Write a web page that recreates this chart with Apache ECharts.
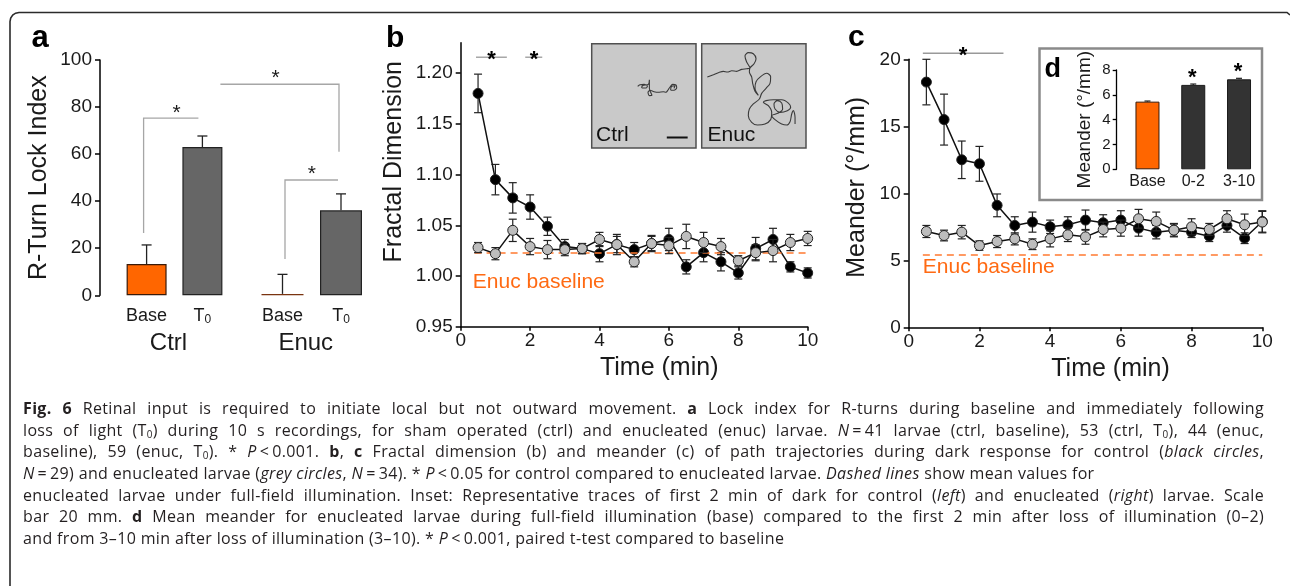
<!DOCTYPE html>
<html>
<head>
<meta charset="utf-8">
<title>Fig. 6</title>
<script src="https://cdn.jsdelivr.net/npm/echarts@6/dist/echarts.min.js"></script>
<style>
  html, body { margin: 0; padding: 0; background: #fff; }
  #chart { position: absolute; left: 0; top: 0; width: 1290px; height: 586px; }
  #caption {
    position: absolute; left: 23px; top: 398px;
    font-family: "Open Sans", "Noto Sans", sans-serif; font-size: 16px; letter-spacing: 0.35px;
    line-height: 21.67px; color: #231f20; white-space: nowrap;
  }
  #caption div { width: max-content; }
  #caption div.j { width: 1241px; text-align: justify; text-align-last: justify; white-space: normal; }
  #caption sub { font-size: 0.62em; vertical-align: -0.25em; line-height: 0; }
</style>
</head>
<body>
<div id="chart"></div>
<div id="caption">
  <div class="j"><b>Fig. 6</b> Retinal input is required to initiate local but not outward movement. <b>a</b> Lock index for R-turns during baseline and immediately following</div>
  <div class="j">loss of light (T<sub>0</sub>) during 10 s recordings, for sham operated (ctrl) and enucleated (enuc) larvae. <i>N</i>&#8201;=&#8201;41 larvae (ctrl, baseline), 53 (ctrl, T<sub>0</sub>), 44 (enuc,</div>
  <div class="j">baseline), 59 (enuc, T<sub>0</sub>). * <i>P</i>&#8201;&lt;&#8201;0.001. <b>b</b>, <b>c</b> Fractal dimension (b) and meander (c) of path trajectories during dark response for control (<i>black circles</i>,</div>
  <div><i>N</i>&#8201;=&#8201;29) and enucleated larvae (<i>grey circles</i>, <i>N</i>&#8201;=&#8201;34). * <i>P</i>&#8201;&lt;&#8201;0.05 for control compared to enucleated larvae. <i>Dashed lines</i> show mean values for</div>
  <div class="j">enucleated larvae under full-field illumination. Inset: Representative traces of first 2 min of dark for control (<i>left</i>) and enucleated (<i>right</i>) larvae. Scale</div>
  <div class="j">bar 20 mm. <b>d</b> Mean meander for enucleated larvae during full-field illumination (base) compared to the first 2 min after loss of illumination (0&#8211;2)</div>
  <div>and from 3&#8211;10 min after loss of illumination (3&#8211;10). * <i>P</i>&#8201;&lt;&#8201;0.001, paired t-test compared to baseline</div>
</div>
<script>
// ---- Panel a: R-turn lock index (mean + upper SEM) ----
const lockCategories = ['Base', 'T0'];
const lockCtrl = [13.3, 63.0];
const lockCtrlErr = [8.1, 4.7];
const lockEnuc = [0.6, 36.1];
const lockEnucErr = [8.3, 7.0];
const lockTicks = [0, 20, 40, 60, 80, 100];

// ---- Panels b, c: time course after loss of light (min) ----
const timeMin = [0.5, 1, 1.5, 2, 2.5, 3, 3.5, 4, 4.5, 5, 5.5, 6, 6.5, 7, 7.5, 8, 8.5, 9, 9.5, 10];
const timeTicks = [0, 2, 4, 6, 8, 10];

const fractalCtrl = [1.180, 1.095, 1.077, 1.068, 1.049, 1.029, 1.027, 1.022, 1.031, 1.026, 1.032, 1.036, 1.009, 1.023, 1.014, 1.003, 1.027, 1.036, 1.009, 1.003];
const fractalCtrlErr = [0.019, 0.015, 0.015, 0.012, 0.009, 0.007, 0.005, 0.008, 0.008, 0.007, 0.007, 0.011, 0.007, 0.009, 0.009, 0.006, 0.011, 0.011, 0.005, 0.005];
const fractalEnuc = [1.028, 1.022, 1.045, 1.029, 1.026, 1.026, 1.027, 1.036, 1.031, 1.014, 1.032, 1.030, 1.039, 1.033, 1.029, 1.015, 1.023, 1.025, 1.033, 1.037];
const fractalEnucErr = [0.005, 0.006, 0.011, 0.008, 0.009, 0.006, 0.005, 0.007, 0.010, 0.005, 0.008, 0.008, 0.012, 0.010, 0.008, 0.005, 0.008, 0.011, 0.008, 0.007];
const fractalBaseline = 1.023;
const fractalTicks = [0.95, 1.00, 1.05, 1.10, 1.15, 1.20];

const meanderCtrl = [18.3, 15.5, 12.5, 12.2, 9.1, 7.6, 7.85, 7.5, 7.65, 8.0, 7.8, 8.0, 7.4, 7.1, 7.25, 7.1, 6.8, 7.6, 6.65, 7.9];
const meanderCtrlErr = [1.7, 1.9, 1.4, 1.3, 0.85, 0.65, 0.75, 0.5, 0.6, 0.75, 0.6, 0.7, 0.6, 0.5, 0.45, 0.4, 0.4, 0.5, 0.4, 0.8];
const meanderEnuc = [7.15, 6.85, 7.1, 6.1, 6.4, 6.6, 6.2, 6.6, 6.9, 6.75, 7.3, 7.4, 8.1, 7.9, 7.25, 7.5, 7.3, 8.1, 7.65, 7.85];
const meanderEnucErr = [0.45, 0.4, 0.5, 0.35, 0.45, 0.45, 0.4, 0.6, 0.5, 0.55, 0.55, 0.6, 0.7, 0.7, 0.5, 0.6, 0.45, 0.6, 0.8, 0.8];
const meanderBaseline = 5.45;

// ---- Panel d: mean meander of enucleated larvae by period ----
const periodLabels = ['Base', '0-2', '3-10'];
const periodMeander = [5.45, 6.8, 7.25];
const periodMeanderErr = [0.05, 0.07, 0.08];

// ---- Inset traces: first 2 min of dark, arena coordinates (mm) ----
const ctrlTrace = [[44.1,59.1],[46.3,60.7],[50.2,61.0],[53.4,59.4],[52.1,57.5],[47.9,58.1],[49.5,60.1],[54.3,61.0],[55.3,65.5],[55.3,57.2],[56.5,53.4],[57.8,50.5],[55.3,50.2],[54.0,53.4],[55.9,55.3],[59.7,54.0],[63.9,53.4],[68.7,54.0],[71.2,53.4],[73.2,55.6],[75.1,58.5],[77.6,61.0],[80.8,60.4],[81.5,57.8],[78.9,55.3],[75.7,55.9],[76.7,59.1],[79.9,59.7],[78.9,57.2]];
const enucTrace = [[5.4,68.1],[11.2,70.3],[16,72.2],[20.8,73.5],[24.6,72.8],[28.8,74.1],[33.5,73.5],[38.3,75.4],[43.1,76],[46.3,76.7],[43.1,82.4],[41.5,88.2],[44.7,91.4],[49.5,90.4],[52.1,85.6],[50.2,80.8],[46.3,76.7],[45.7,72.8],[47.9,68.1],[48.9,61.7],[51.1,54.3],[54.3,50.5],[51.1,57.2],[52.1,63.6],[56.5,68.4],[62.3,71.6],[66.1,68.4],[65.5,62.0],[61.7,57.2],[57.5,52.4],[55.3,47.0],[49.5,42.2],[45.7,37.4],[44.7,31.0],[47.9,24.6],[53.4,22.0],[60.7,23.0],[66.1,27.2],[67.1,34.2],[63.9,40.6],[59.1,43.8],[61.7,45.4],[68.7,46.3],[76.7,46.3],[83.1,43.1],[85.3,39.0],[82.1,35.8],[75.1,34.2],[70.3,37.4],[69.3,42.2],[72.5,45.4],[76.7,43.1],[77.6,37.4],[73.5,33.5],[67.1,31.0],[70.3,27.2],[76.7,23.0],[81.5,22.0],[84.7,25.2],[86.3,32.6],[87.9,35.8],[89.5,29.4],[89.5,23.0]];
const scaleBarMm = [[72, 10], [92, 10]];

// ---- styling ----
const FONT = '"Liberation Sans", Arial, Helvetica, sans-serif';
const INK = '#1a1a1a';
const ORANGE = '#ff6600';
const ORANGE_TEXT = '#ff6a13';

const axisLineStyle = { show: true, lineStyle: { color: '#000', width: 1.5 } };
const axisTickStyle = { show: true, inside: false, length: 5, lineStyle: { color: '#000', width: 1.5 } };

function valueYAxis(grid, min, max, interval, extra) {
  return Object.assign({
    type: 'value', gridIndex: grid, min, max, interval,
    axisLine: axisLineStyle, axisTick: axisTickStyle, splitLine: { show: false },
    axisLabel: { fontSize: 19, color: INK, margin: 8, fontFamily: FONT },
    nameLocation: 'middle', nameRotate: 90,
    nameTextStyle: { fontSize: 25, color: INK, fontFamily: FONT }
  }, extra || {});
}
function timeXAxis(grid) {
  return {
    type: 'value', gridIndex: grid, min: 0, max: 10, interval: 2,
    axisLine: axisLineStyle, axisTick: Object.assign({}, axisTickStyle, { length: 4 }),
    splitLine: { show: false },
    axisLabel: { fontSize: 19, color: INK, margin: 5, fontFamily: FONT },
    name: 'Time (min)', nameLocation: 'middle', nameGap: 29,
    nameTextStyle: { fontSize: 25, color: INK, fontFamily: FONT, padding: [0, 0, 0, 50] }
  };
}
function hiddenAxis(grid) {
  return { type: 'value', gridIndex: grid, min: 0, max: 100, show: false };
}
const subRich = {
  t: { fontSize: 18, color: INK, fontFamily: FONT, lineHeight: 20, verticalAlign: 'bottom' },
  s: { fontSize: 12, color: INK, fontFamily: FONT, lineHeight: 8, verticalAlign: 'bottom' }
};
function groupXAxis(grid, name) {
  return {
    type: 'category', gridIndex: grid, data: lockCategories,
    axisLine: { show: false }, axisTick: { show: false },
    axisLabel: {
      margin: 10, interval: 0,
      formatter: v => v === 'T0' ? '{t|T}{s|0}' : '{t|' + v + '}',
      rich: subRich
    },
    name, nameLocation: 'middle', nameGap: 36,
    nameTextStyle: { fontSize: 24, color: INK, fontFamily: FONT, padding: [0, 12, 0, 0] }
  };
}

// vertical error bars drawn through the axis scales
function errorBars(xi, yi, xs, ys, errs, opt) {
  return {
    type: 'custom', xAxisIndex: xi, yAxisIndex: yi, silent: true, z: opt.z,
    data: ys.map((y, i) => [xs ? xs[i] : i, opt.upOnly ? y : y - errs[i], y + errs[i]]),
    encode: { x: 0, y: [1, 2] },
    renderItem(params, api) {
      const x = api.value(0);
      const lo = api.coord([x, api.value(1)]);
      const hi = api.coord([x, api.value(2)]);
      const w = opt.cap;
      const style = { stroke: opt.color, lineWidth: opt.width, fill: null };
      const kids = [
        { type: 'line', shape: { x1: lo[0], y1: lo[1], x2: hi[0], y2: hi[1] }, style },
        { type: 'line', shape: { x1: hi[0] - w, y1: hi[1], x2: hi[0] + w, y2: hi[1] }, style }
      ];
      if (!opt.upOnly) kids.push({ type: 'line', shape: { x1: lo[0] - w, y1: lo[1], x2: lo[0] + w, y2: lo[1] }, style });
      return { type: 'group', children: kids };
    }
  };
}
function pointSeries(xi, yi, ys, fill, z, extra) {
  return Object.assign({
    type: 'line', xAxisIndex: xi, yAxisIndex: yi, z,
    data: timeMin.map((t, i) => [t, ys[i]]),
    symbol: 'circle', symbolSize: 10, showSymbol: true, silent: true,
    lineStyle: { color: '#111', width: 1.5 },
    itemStyle: { color: fill, borderColor: '#222', borderWidth: 1 }
  }, extra || {});
}
function baselineMark(value) {
  return {
    silent: true, symbol: ['none', 'none'], label: { show: false },
    lineStyle: { color: '#ff7a30', width: 1.6, type: [7, 5] },
    data: [[{ coord: [0.4, value] }, { coord: [10, value] }]]
  };
}
// bar items styled per position (fill, outline)
function styledBars(values, fills, borders) {
  return values.map((v, i) => ({ value: v, itemStyle: { color: fills[i], borderColor: borders[i] } }));
}

const option = {
  animation: false,
  backgroundColor: '#ffffff',
  textStyle: { fontFamily: FONT, color: INK },
  grid: [
    { left: 118.7, top: 60, width: 111.6, height: 235.3, outerBoundsMode: 'none' },
    { left: 253.25, top: 60, width: 117, height: 235.3, outerBoundsMode: 'none' },
    { left: 460.7, top: 42.7, width: 347, height: 284, outerBoundsMode: 'none' },
    { left: 908.7, top: 59.3, width: 353.6, height: 268, outerBoundsMode: 'none' },
    { left: 1124.6, top: 70, width: 137.3, height: 99.3, outerBoundsMode: 'none' },
    { left: 591.7, top: 43.7, width: 104.3, height: 104.3, show: true, backgroundColor: '#c9c9c9', borderColor: '#505050', borderWidth: 1.5, outerBoundsMode: 'none' },
    { left: 701.7, top: 43.7, width: 104.3, height: 104.3, show: true, backgroundColor: '#c9c9c9', borderColor: '#505050', borderWidth: 1.5, outerBoundsMode: 'none' }
  ],
  xAxis: [
    groupXAxis(0, 'Ctrl'),
    groupXAxis(1, 'Enuc'),
    timeXAxis(2),
    timeXAxis(3),
    {
      type: 'category', gridIndex: 4, data: periodLabels,
      axisLine: { show: false }, axisTick: { show: false },
      axisLabel: { fontSize: 16, color: INK, margin: 4, interval: 0, fontFamily: FONT }
    },
    hiddenAxis(5),
    hiddenAxis(6)
  ],
  yAxis: [
    valueYAxis(0, 0, 100, 20, { offset: 18.7, name: 'R-Turn Lock Index', nameGap: 48 }),
    { type: 'value', gridIndex: 1, min: 0, max: 100, show: false },
    valueYAxis(2, 0.95, 1.23, 0.05, {
      name: 'Fractal Dimension', nameGap: 54,
      axisLabel: { fontSize: 19, color: INK, margin: 8, fontFamily: FONT, customValues: fractalTicks, formatter: v => v.toFixed(2) },
      axisTick: Object.assign({}, axisTickStyle, { customValues: fractalTicks }),
      nameTextStyle: { fontSize: 25, color: INK, fontFamily: FONT, padding: [0, 0, 0, 46] }
    }),
    valueYAxis(3, 0, 20, 5, {
      name: 'Meander (°/mm)', nameGap: 39,
      nameTextStyle: { fontSize: 25, color: INK, fontFamily: FONT, padding: [0, 0, 0, 12] }
    }),
    valueYAxis(4, 0, 8, 2, {
      offset: 7.9, name: 'Meander (°/mm)', nameGap: 22,
      axisLine: { show: true, lineStyle: { color: '#000', width: 1.3 } },
      axisTick: { show: true, length: 4, lineStyle: { color: '#000', width: 1.3 } },
      axisLabel: { fontSize: 15, color: INK, margin: 6, fontFamily: FONT },
      nameTextStyle: { fontSize: 19, color: INK, fontFamily: FONT }
    }),
    hiddenAxis(5),
    hiddenAxis(6)
  ],
  series: [
    // panel a
    errorBars(0, 0, null, lockCtrl, lockCtrlErr, { upOnly: true, cap: 5, color: '#222', width: 1.3, z: 1 }),
    errorBars(1, 1, null, lockEnuc, lockEnucErr, { upOnly: true, cap: 5, color: '#222', width: 1.3, z: 1 }),
    { type: 'bar', xAxisIndex: 0, yAxisIndex: 0, barWidth: 40, silent: true, z: 2,
      data: styledBars(lockCtrl, [ORANGE, '#666666'], ['#3a1a08', '#222222']),
      itemStyle: { borderWidth: 1.2 } },
    { type: 'bar', xAxisIndex: 1, yAxisIndex: 1, barWidth: 42, silent: true, z: 2,
      data: styledBars(lockEnuc, [ORANGE, '#666666'], ['#7a3410', '#222222']),
      itemStyle: { borderWidth: 1.2 } },

    // panel b
    errorBars(2, 2, timeMin, fractalCtrl, fractalCtrlErr, { cap: 4, color: '#222', width: 1.2, z: 3 }),
    pointSeries(2, 2, fractalCtrl, '#000', 4, { markLine: baselineMark(fractalBaseline) }),
    errorBars(2, 2, timeMin, fractalEnuc, fractalEnucErr, { cap: 4, color: '#222', width: 1.2, z: 5 }),
    pointSeries(2, 2, fractalEnuc, '#bdbdbd', 6),

    // panel c
    errorBars(3, 3, timeMin, meanderCtrl, meanderCtrlErr, { cap: 4, color: '#222', width: 1.2, z: 3 }),
    pointSeries(3, 3, meanderCtrl, '#000', 4, { markLine: baselineMark(meanderBaseline) }),
    errorBars(3, 3, timeMin, meanderEnuc, meanderEnucErr, { cap: 4, color: '#222', width: 1.2, z: 5 }),
    pointSeries(3, 3, meanderEnuc, '#bdbdbd', 6),

    // panel d
    errorBars(4, 4, null, periodMeander, periodMeanderErr, { upOnly: true, cap: 3, color: '#222', width: 1.2, z: 3 }),
    { type: 'bar', xAxisIndex: 4, yAxisIndex: 4, barWidth: 24, silent: true, z: 4,
      data: styledBars(periodMeander, [ORANGE, '#333333', '#333333'], ['#3a1a08', '#1a1a1a', '#1a1a1a']),
      itemStyle: { borderWidth: 1 } },

    // inset traces
    { type: 'line', xAxisIndex: 5, yAxisIndex: 5, data: ctrlTrace, showSymbol: false, smooth: 0.3, silent: true,
      lineStyle: { color: '#3a3a3a', width: 1.1 }, z: 3 },
    { type: 'line', xAxisIndex: 5, yAxisIndex: 5, data: scaleBarMm, showSymbol: false, silent: true,
      lineStyle: { color: '#111', width: 2 }, z: 3 },
    { type: 'line', xAxisIndex: 6, yAxisIndex: 6, data: enucTrace, showSymbol: false, smooth: 0.3, silent: true,
      lineStyle: { color: '#3a3a3a', width: 1.1 }, z: 3 }
  ]
};

const chart = echarts.init(document.getElementById('chart'), null, { renderer: 'canvas' });
chart.setOption(option);

// ---- annotations placed through the axis scales ----
const px = (xi, yi, pt) => chart.convertToPixel({ xAxisIndex: xi, yAxisIndex: yi }, pt);
const BRACKET = { stroke: '#a6a6a6', lineWidth: 1.3, fill: null };
const SIG = { stroke: '#999', lineWidth: 1.3, fill: null };

function poly(points, style, z) {
  return { type: 'polyline', z: z || 10, silent: true, shape: { points }, style };
}
function txt(x, y, text, s, z) {
  return { type: 'text', x, y, z: z || 12, silent: true,
    style: Object.assign({ text, fontFamily: FONT, fill: INK, align: 'center', verticalAlign: 'middle' }, s) };
}

const g = [];
// page frame with rounded top-left corner
g.push(poly([[1290, 15], [1287, 12.5], [19, 12.5], [15.6, 13.2], [12.7, 15.1], [10.7, 18], [10, 21.5], [10, 586]],
  { stroke: '#2b2b2b', lineWidth: 1.6, fill: null }, 1));

// panel letters
g.push(txt(31.5, 38.5, 'a', { fontSize: 31, fontWeight: 'bold', align: 'left', fill: '#000' }));
g.push(txt(386, 39, 'b', { fontSize: 30, fontWeight: 'bold', align: 'left', fill: '#000' }));
g.push(txt(848, 37.5, 'c', { fontSize: 30, fontWeight: 'bold', align: 'left', fill: '#000' }));

// panel a significance brackets
{
  const cBase = px(0, 0, [0, 0])[0], cT0 = px(0, 0, [1, 0])[0];
  const eBase = px(1, 1, [0, 0])[0], eT0 = px(1, 1, [1, 0])[0];
  const y = v => px(0, 0, [0, v])[1];
  g.push(poly([[cBase - 3, y(26.5)], [cBase - 3, y(75.3)], [cT0 - 4, y(75.3)]], BRACKET));
  g.push(txt((cBase + cT0) / 2 + 2, y(75.3) - 5, '*', { fontSize: 21 }));
  g.push(poly([[cT0 + 18, y(89.7)], [eT0 - 2, y(89.7)], [eT0 - 2, y(61)]], BRACKET));
  g.push(txt((cT0 + 18 + eT0 - 2) / 2 - 4, y(89.7) - 6, '*', { fontSize: 21 }));
  g.push(poly([[eBase + 2.5, y(15.4)], [eBase + 2.5, y(49)], [eT0 - 3, y(49)]], BRACKET));
  g.push(txt((eBase + eT0) / 2, y(49) - 6, '*', { fontSize: 21 }));
}

// panel b significance marks and baseline label
{
  const p = (t, v) => px(2, 2, [t, v]);
  g.push(poly([p(0.44, 1.2157), p(1.33, 1.2157)], SIG));
  g.push(poly([p(1.86, 1.2157), p(2.35, 1.2157)], SIG));
  const s1 = p(0.89, 1.2157), s2 = p(2.11, 1.2157);
  g.push(txt(s1[0], s1[1] + 3, '*', { fontSize: 22, fontWeight: 'bold', fill: '#000' }));
  g.push(txt(s2[0], s2[1] + 3, '*', { fontSize: 22, fontWeight: 'bold', fill: '#000' }));
  const lb = p(0.35, 0.994);
  g.push(txt(lb[0], lb[1], 'Enuc baseline', { fontSize: 21, fill: ORANGE_TEXT, align: 'left' }));
}

// panel c significance mark and baseline label
{
  const p = (t, v) => px(3, 3, [t, v]);
  g.push(poly([p(0.40, 20.45), p(2.68, 20.45)], SIG));
  const s = p(1.54, 20.45);
  g.push(txt(s[0], s[1] + 3, '*', { fontSize: 22, fontWeight: 'bold', fill: '#000' }));
  const lb = p(0.4, 4.52);
  g.push(txt(lb[0], lb[1], 'Enuc baseline', { fontSize: 21, fill: ORANGE_TEXT, align: 'left' }));
}

// inset box labels
g.push(txt(596, 135.5, 'Ctrl', { fontSize: 21, align: 'left', fill: '#111' }, 12));
g.push(txt(707.5, 135.5, 'Enuc', { fontSize: 21, align: 'left', fill: '#111' }, 12));

// panel d inset frame, letter and significance stars
g.push({ type: 'rect', z: 0, silent: true, shape: { x: 1039.5, y: 48.5, width: 222.5, height: 151.5 },
  style: { fill: '#fff', stroke: '#8a8a8a', lineWidth: 2.5 } });
g.push(txt(1044.5, 69.5, 'd', { fontSize: 27, fontWeight: 'bold', align: 'left', fill: '#000' }));
[1, 2].forEach(i => {
  const q = px(4, 4, [i, periodMeander[i] + periodMeanderErr[i]]);
  g.push(txt(q[0] - 1, q[1] - 6, '*', { fontSize: 22, fontWeight: 'bold', fill: '#000' }));
});

chart.setOption({ graphic: { elements: g } });
</script>
</body>
</html>
